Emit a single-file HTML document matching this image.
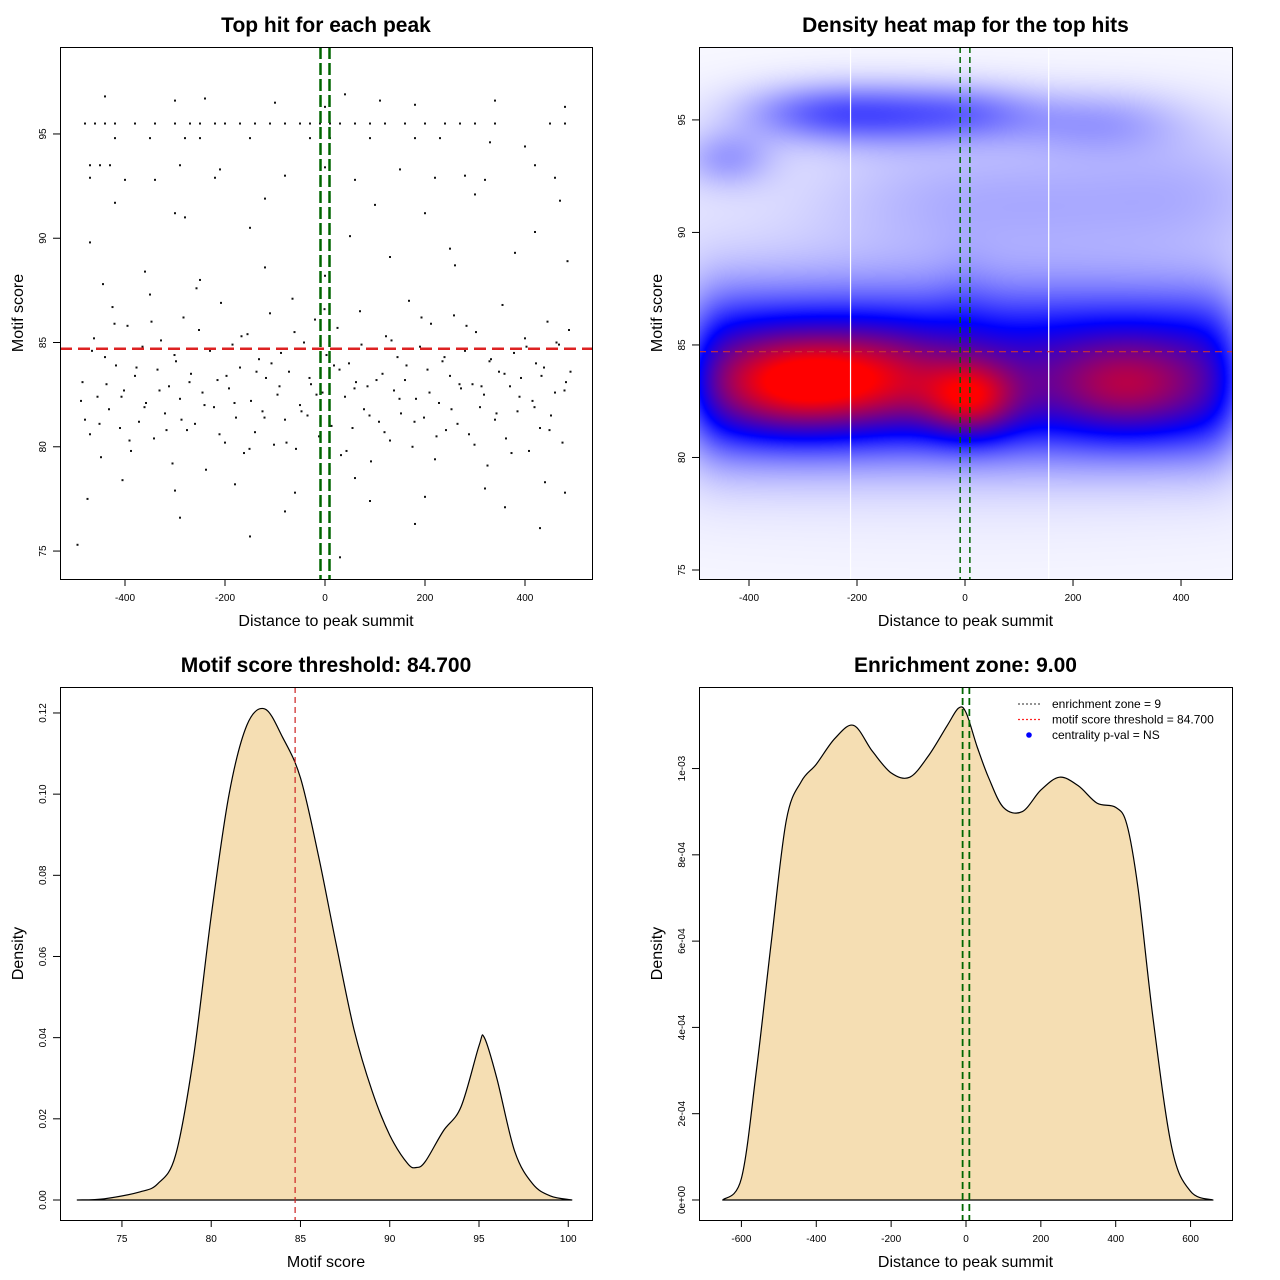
<!DOCTYPE html>
<html><head><meta charset="utf-8">
<style>
html,body{margin:0;padding:0;background:#fff;}
#wrap{position:relative;width:1280px;height:1280px;overflow:hidden;font-family:"Liberation Sans",sans-serif;}
#hm{position:absolute;left:699px;top:47px;}
svg{position:absolute;left:0;top:0;}
</style></head>
<body>
<div id="wrap">
<canvas id="hm" width="533" height="532"></canvas>
<svg id="s" width="1280" height="1280"></svg>
</div>
<script>
// ---------- data ----------
const scatterX = [-485,-470,-462,-455,-448,-440,-432,-425,-418,-410,-402,-395,-388,-380,-372,-365,-358,-350,-342,-335,-328,-320,-312,-305,-298,-290,-283,-276,-268,-260,-252,-245,-238,-230,-222,-215,-208,-200,-192,-185,-178,-170,-162,-155,-148,-140,-132,-125,-118,-110,-102,-95,-88,-80,-72,-65,-58,-50,-42,-35,-28,-20,-12,-5,3,10,18,25,32,40,48,55,62,70,78,85,92,100,108,115,122,130,138,145,152,160,168,175,182,190,198,205,212,220,228,235,242,250,258,265,272,280,288,295,302,310,318,325,332,340,348,355,362,370,378,385,392,400,408,415,422,430,438,445,452,460,468,475,482,488,
-480,-444,-405,-360,-300,-250,-180,-120,-60,0,60,130,200,260,320,380,440,485,-470,-300,-150,50,250,420,-475,-290,-80,90,180,360,430,480,-495,-150,30,
-480,-460,-440,-420,-380,-340,-300,-270,-250,-220,-200,-170,-140,-110,-80,-50,-30,-10,10,30,60,90,120,160,200,240,270,300,340,450,480,
-440,-300,-240,-100,0,40,110,180,340,480,
-420,-350,-280,-250,-150,-30,10,90,180,230,330,400,
-470,-450,-430,-290,-210,0,150,280,420,
-470,-400,-340,-220,-80,60,220,320,460,
-420,-120,100,300,470,-280,200,
-488,-466,-451,-437,-421,-407,-391,-377,-361,-347,-331,-317,-301,-287,-271,-257,-241,-227,-211,-197,-181,-167,-151,-137,-121,-107,-91,-77,-61,-47,-31,-17,-1,13,29,43,59,73,89,103,119,133,149,163,179,193,209,223,239,253,269,283,299,313,329,343,359,373,389,403,419,433,449,463,479,491];
const scatterY = [83.1,80.6,85.2,82.4,79.5,84.3,81.8,86.7,83.9,80.9,82.7,85.8,79.8,83.4,81.2,84.8,82.1,87.3,80.4,83.7,85.1,81.6,82.9,79.2,84.1,82.3,86.2,80.8,83.5,81.1,85.6,82.6,78.9,84.6,81.9,83.2,86.9,80.2,82.8,84.9,81.4,83.8,79.7,85.4,82.2,80.7,84.2,81.7,83.3,86.4,80.1,82.5,84.5,81.3,83.6,87.1,79.9,82.0,85.0,81.5,83.0,86.1,80.5,82.6,84.4,81.0,83.9,85.7,79.6,82.4,84.0,80.9,83.1,86.5,81.8,82.9,79.3,84.7,81.2,83.5,85.3,80.3,82.7,84.3,81.6,83.2,87.0,80.0,82.3,84.8,81.4,83.7,85.9,79.4,82.1,84.1,80.8,83.4,86.3,81.1,82.8,84.6,80.6,83.0,85.5,81.9,82.5,79.1,84.2,81.3,83.6,86.8,80.4,82.9,84.5,81.7,83.3,85.2,79.8,82.2,84.0,80.9,83.8,86.0,81.5,82.6,84.9,80.2,83.1,85.6,
81.3,87.8,78.4,88.4,77.9,88.0,78.2,88.6,77.8,88.2,78.5,89.1,77.6,88.7,78.0,89.3,78.3,88.9,89.8,91.2,90.5,90.1,89.5,90.3,77.5,76.6,76.9,77.4,76.3,77.1,76.1,77.8,75.3,75.7,74.7,
95.5,95.5,95.5,95.5,95.5,95.5,95.5,95.5,95.5,95.5,95.5,95.5,95.5,95.5,95.5,95.5,95.5,95.5,95.5,95.5,95.5,95.5,95.5,95.5,95.5,95.5,95.5,95.5,95.5,95.5,95.5,
96.8,96.6,96.7,96.5,96.3,96.9,96.6,96.4,96.6,96.3,
94.8,94.8,94.8,94.8,94.8,94.8,94.8,94.8,94.8,94.8,94.6,94.4,
93.5,93.5,93.5,93.5,93.3,93.4,93.3,93.0,93.5,
92.9,92.8,92.8,92.9,93.0,92.8,92.9,92.8,92.9,
91.7,91.9,91.6,92.1,91.8,91.0,91.2,
82.2,84.6,81.1,83.0,85.9,82.4,80.3,83.8,81.9,86.0,82.7,80.8,84.4,81.3,83.1,87.6,82.0,84.7,80.6,83.4,82.1,85.3,79.9,83.6,81.4,84.0,82.9,80.2,85.5,81.7,83.3,82.5,86.6,81.0,83.7,79.8,82.8,84.9,81.5,83.2,80.7,85.1,82.3,83.9,81.2,86.2,82.6,80.5,84.3,81.8,83.0,85.8,80.1,82.9,84.1,81.6,83.5,79.7,82.4,84.8,81.9,83.4,80.8,85.0,82.7,83.6];

// heatmap density components (data coords): centre x, centre y, spread x, spread y, weight
const hmCx = [-480,-440,-400,-360,-320,-280,-240,-200,-160,-120,-80,-40,0,40,80,120,160,200,240,280,320,360,400,440,480, -480,-440,-400,-360,-320,-280,-240,-200,-160,-120,-80,-40,0,40,80,120,160,200,240,280,320,360,400,440,480, -330,-170,10,300, -280,0,-150,250, -440,-100,100,300,450, 0];
const hmCy = [82.3,82.3,82.3,82.3,82.3,82.3,82.3,82.3,82.3,82.3,82.3,82.3,82.3,82.3,82.3,82.3,82.3,82.3,82.3,82.3,82.3,82.3,82.3,82.3,82.3, 85.2,85.2,85.2,85.2,85.2,85.2,85.2,85.2,85.2,85.2,85.2,85.2,85.6,85.2,85.2,85.2,85.2,85.2,85.2,85.2,85.2,85.2,85.2,85.2,85.2, 83.3,83.5,82.6,83.2, 95.3,95.3,95.2,94.9, 93.3,91.5,91.5,91.5,92.0, 86];
const hmSx = [40,40,40,40,40,40,40,40,40,40,40,40,40,40,40,40,40,40,40,40,40,40,40,40,40, 40,40,40,40,40,40,40,40,40,40,40,40,40,40,40,40,40,40,40,40,40,40,40,40,40, 100,100,60,100, 100,100,90,110, 60,150,150,150,120, 1000];
const hmSy = [1.9,1.9,1.9,1.9,1.9,1.9,1.9,1.9,1.9,1.9,1.9,1.9,1.9,1.9,1.9,1.9,1.9,1.9,1.9,1.9,1.9,1.9,1.9,1.9,1.9, 1.9,1.9,1.9,1.9,1.9,1.9,1.9,1.9,1.9,1.9,1.9,1.9,2.0,1.9,1.9,1.9,1.9,1.9,1.9,1.9,1.9,1.9,1.9,1.9,1.9, 1.5,1.5,1.2,1.5, 0.9,0.9,1.0,1.0, 0.9,2.0,2.0,2.0,2.0, 7];
const hmW = [0.5,0.5,0.5,0.5,0.5,0.5,0.5,0.5,0.5,0.5,0.5,0.5,0.5,0.5,0.5,0.5,0.5,0.5,0.5,0.5,0.5,0.5,0.5,0.5,0.5, 0.45,0.45,0.45,0.45,0.45,0.45,0.45,0.45,0.45,0.45,0.45,0.45,0.5,0.45,0.45,0.45,0.45,0.45,0.45,0.45,0.45,0.45,0.45,0.45,0.45, 1.5,1.1,1.5,1.0, 0.75,0.7,0.5,0.45, 0.5,0.2,0.2,0.2,0.2, 0.25];

// motif score density
const scoreX = [72.5,74,76,77,78,79,80,81,82,83,84,85,86,87,88,89,90,91,91.5,92,93,94,95,95.3,96,97,98,99,100.2];
const scoreD = [0,0.0003,0.002,0.004,0.011,0.035,0.07,0.1,0.117,0.121,0.114,0.104,0.085,0.063,0.042,0.027,0.016,0.009,0.008,0.0095,0.017,0.023,0.038,0.04,0.03,0.012,0.004,0.001,0];
// distance density
const distX = [-650,-600,-560,-520,-480,-440,-400,-350,-300,-250,-200,-150,-100,-50,-20,0,30,60,100,150,200,250,300,350,400,430,460,500,550,600,660];
const distD = [0,0.00005,0.0003,0.0006,0.00088,0.00097,0.00101,0.00107,0.0011,0.00104,0.00099,0.00098,0.00103,0.0011,0.00114,0.00113,0.00105,0.00098,0.00091,0.0009,0.00095,0.00098,0.00096,0.00092,0.00091,0.00087,0.00072,0.00042,0.00012,0.00002,0];

const xTicks1 = [-400,-200,0,200,400];
const yTicks1 = [75,80,85,90,95];
const xTicks3 = [75,80,85,90,95,100];
const yTicks3 = [0,0.02,0.04,0.06,0.08,0.10,0.12];
const yTickLabels3 = ["0.00","0.02","0.04","0.06","0.08","0.10","0.12"];
const xTicks4 = [-600,-400,-200,0,200,400,600];
const yTicks4 = [0,0.0002,0.0004,0.0006,0.0008,0.001];
const yTickLabels4 = ["0e+00","2e-04","4e-04","6e-04","8e-04","1e-03"];
const threshold = 84.7;
const zone = 9;

// ---------- helpers ----------
const NS = "http://www.w3.org/2000/svg";
const svg = document.getElementById('s');
function mk(tag, attrs, parent){const e=document.createElementNS(NS,tag);for(const k in attrs)e.setAttribute(k,attrs[k]);(parent||svg).appendChild(e);return e;}
function panel(l,t,w,h,x0,x1,y0,y1){return {l,t,w,h,sx:v=>l+(v-x0)/(x1-x0)*w,sy:v=>t+h-(v-y0)/(y1-y0)*h};}

const P1 = panel(60,47,532,532,-530,534,73.66,99.17);
const P2 = panel(699,47,533,532,-492.6,494.4,74.6,98.24);
const P3 = panel(60,687,532,533,71.53,101.33,-0.00493,0.1264);
const P4 = panel(699,687,533,533,-713.3,710.7,-0.0000464,0.001189);

function frame(P,name){
  const r=mk('rect',{x:P.l+0.5,y:P.t+0.5,width:P.w,height:P.h,fill:'none',stroke:'#000','stroke-width':1});
  
  
}
function axes(P,name,xt,xl,yt,yl){
  const g=mk('g',{});
  
  
  const yb=P.t+P.h;
  mk('line',{x1:P.sx(xt[0]),x2:P.sx(xt[xt.length-1]),y1:yb+0.5,y2:yb+0.5,stroke:'#000'},g);
  xt.forEach((v,i)=>{const x=P.sx(v);
    mk('line',{x1:x,x2:x,y1:yb,y2:yb+7,stroke:'#000'},g);
    const tx=mk('text',{x:x,y:yb+22,'text-anchor':'middle','font-size':10},g);tx.textContent=xl[i];
  });
  const g2=mk('g',{});
  
  
  mk('line',{x1:P.l+0.5,x2:P.l+0.5,y1:P.sy(yt[0]),y2:P.sy(yt[yt.length-1]),stroke:'#000'},g2);
  yt.forEach((v,i)=>{const y=P.sy(v);
    mk('line',{x1:P.l-7,x2:P.l,y1:y,y2:y,stroke:'#000'},g2);
    const tx=mk('text',{x:P.l-14,y:y,'text-anchor':'middle','font-size':10,transform:`rotate(-90 ${P.l-14} ${y})`},g2);tx.textContent=yl[i];
  });
}
function titles(P,name,title,xlab,ylab){
  const t=mk('text',{x:P.l+P.w/2,y:P.t-15,'text-anchor':'middle','font-size':21,'font-weight':'bold'});t.textContent=title;
  
  
  const xa=mk('text',{x:P.l+P.w/2,y:P.t+P.h+47,'text-anchor':'middle','font-size':16});xa.textContent=xlab;
  
  
  const yx=P.l-37, yy=P.t+P.h/2;
  const ya=mk('text',{x:yx,y:yy,'text-anchor':'middle','font-size':16,transform:`rotate(-90 ${yx} ${yy})`});ya.textContent=ylab;
  
  
}
function hline(P,v,col,w,dash,name){const l=mk('line',{x1:P.l,x2:P.l+P.w,y1:P.sy(v),y2:P.sy(v),stroke:col,'stroke-width':w,'stroke-dasharray':dash});
  
  }
function vline(P,v,col,w,dash,name){const l=mk('line',{x1:P.sx(v),x2:P.sx(v),y1:P.t,y2:P.t+P.h,stroke:col,'stroke-width':w,'stroke-dasharray':dash});
  
  }

// ---------- panel 1 scatter ----------
const gp=mk('g',{});


const nPts=Math.min(scatterX.length,scatterY.length);
for(let i=0;i<nPts;i++){
  const c=mk('rect',{x:P1.sx(scatterX[i])-1,y:P1.sy(scatterY[i])-1,width:2,height:2,fill:'#111'},gp);
  
  
}
hline(P1,threshold,'#d22',2.5,'12 6','threshold-line');
vline(P1,-zone,'#060',2.5,'12 4','zone-left-line');
vline(P1,zone,'#060',2.5,'12 4','zone-right-line');
frame(P1,'scatter');
axes(P1,'scatter',xTicks1,xTicks1.map(String),yTicks1,yTicks1.map(String));
titles(P1,'scatter','Top hit for each peak','Distance to peak summit','Motif score');

// ---------- panel 2 heatmap ----------
(function(){
  const cv=document.getElementById('hm'),ctx=cv.getContext('2d');
  const W=cv.width,H=cv.height,img=ctx.createImageData(W,H);
  const vals=new Float32Array(W*H);let mx=0;
  for(let py=0;py<H;py++){
    const dy=P2.t+py+0.5;
    const yv=74.6+(P2.t+P2.h-dy)/P2.h*(98.24-74.6);
    const ey=hmCy.map((c,k)=>Math.exp(-0.5*((yv-c)/hmSy[k])**2)*hmW[k]);
    for(let px=0;px<W;px++){
      const xv=-492.6+(px+0.5)/W*(494.4+492.6);
      let s=0;
      for(let k=0;k<hmCx.length;k++){if(ey[k]<1e-4)continue;s+=ey[k]*Math.exp(-0.5*((xv-hmCx[k])/hmSx[k])**2);}
      vals[py*W+px]=s;if(s>mx)mx=s;
    }
  }
  for(let i=0;i<W*H;i++){
    const t=vals[i]/mx;let r,g,b;
    if(t<0.42){const u=t/0.42;r=255*(1-u);g=255*(1-u);b=255;}
    else{const u=Math.min(1,(t-0.42)/0.48);r=255*u;g=0;b=255*(1-u);}
    img.data[i*4]=r;img.data[i*4+1]=g;img.data[i*4+2]=b;img.data[i*4+3]=255;
  }
  ctx.putImageData(img,0,0);
})();
vline(P2,-212,'#fff',1.2,'none','heatmap-gap-line');
vline(P2,155,'#fff',1.2,'none','heatmap-gap-line');
hline(P2,threshold,'#c33',1.2,'7 5','heatmap-threshold-line');
vline(P2,-zone,'#060',1.5,'6 4','heatmap-zone-left');
vline(P2,zone,'#060',1.5,'6 4','heatmap-zone-right');
frame(P2,'heatmap');
axes(P2,'heatmap',xTicks1,xTicks1.map(String),yTicks1,yTicks1.map(String));
titles(P2,'heatmap','Density heat map for the top hits','Distance to peak summit','Motif score');

// ---------- density areas (smoothed) ----------
function area(P,xs,ys,name){
  const pts=xs.map((x,i)=>[P.sx(x),P.sy(ys[i])]);
  let d=`M${pts[0][0].toFixed(1)},${P.sy(0).toFixed(1)} L${pts[0][0].toFixed(1)},${pts[0][1].toFixed(1)}`;
  for(let i=0;i<pts.length-1;i++){
    const p0=pts[Math.max(0,i-1)],p1=pts[i],p2=pts[i+1],p3=pts[Math.min(pts.length-1,i+2)];
    const c1=[p1[0]+(p2[0]-p0[0])/6,p1[1]+(p2[1]-p0[1])/6];
    const c2=[p2[0]-(p3[0]-p1[0])/6,p2[1]-(p3[1]-p1[1])/6];
    d+=` C${c1[0].toFixed(1)},${c1[1].toFixed(1)} ${c2[0].toFixed(1)},${c2[1].toFixed(1)} ${p2[0].toFixed(1)},${p2[1].toFixed(1)}`;
  }
  d+=` L${pts[pts.length-1][0].toFixed(1)},${P.sy(0).toFixed(1)} Z`;
  const p=mk('path',{d,fill:'#f5deb3',stroke:'#000','stroke-width':1.2,'stroke-linejoin':'round'});
  
  
}
area(P3,scoreX,scoreD,'score-density-area');
vline(P3,threshold,'#c22',1.2,'6 4','score-threshold-line');
frame(P3,'score-density');
axes(P3,'score-density',xTicks3,xTicks3.map(String),yTicks3,yTickLabels3);
titles(P3,'score-density','Motif score threshold: 84.700','Motif score','Density');

area(P4,distX,distD,'distance-density-area');
vline(P4,-zone,'#060',1.8,'7 4','distance-zone-left');
vline(P4,zone,'#060',1.8,'7 4','distance-zone-right');
frame(P4,'distance-density');
axes(P4,'distance-density',xTicks4,xTicks4.map(String),yTicks4,yTickLabels4);
titles(P4,'distance-density','Enrichment zone: 9.00','Distance to peak summit','Density');

const lg=mk('g',{});


const leg=[['enrichment zone = 9','#555','line'],['motif score threshold = 84.700','#f22','line'],['centrality p-val = NS','#00f','dot']];
leg.forEach((e,i)=>{
  const y=704+i*15.5;
  const g=mk('g',{},lg);
  
  
  if(e[2]==='line')mk('line',{x1:1018,x2:1042,y1:y,y2:y,stroke:e[1],'stroke-width':1.2,'stroke-dasharray':'2 2'},g);
  else mk('circle',{cx:1029,cy:y,r:2.8,fill:e[1]},g);
  const t=mk('text',{x:1052,y:y+4,'font-size':12},g);t.textContent=e[0];
});
</script>
</body></html>
